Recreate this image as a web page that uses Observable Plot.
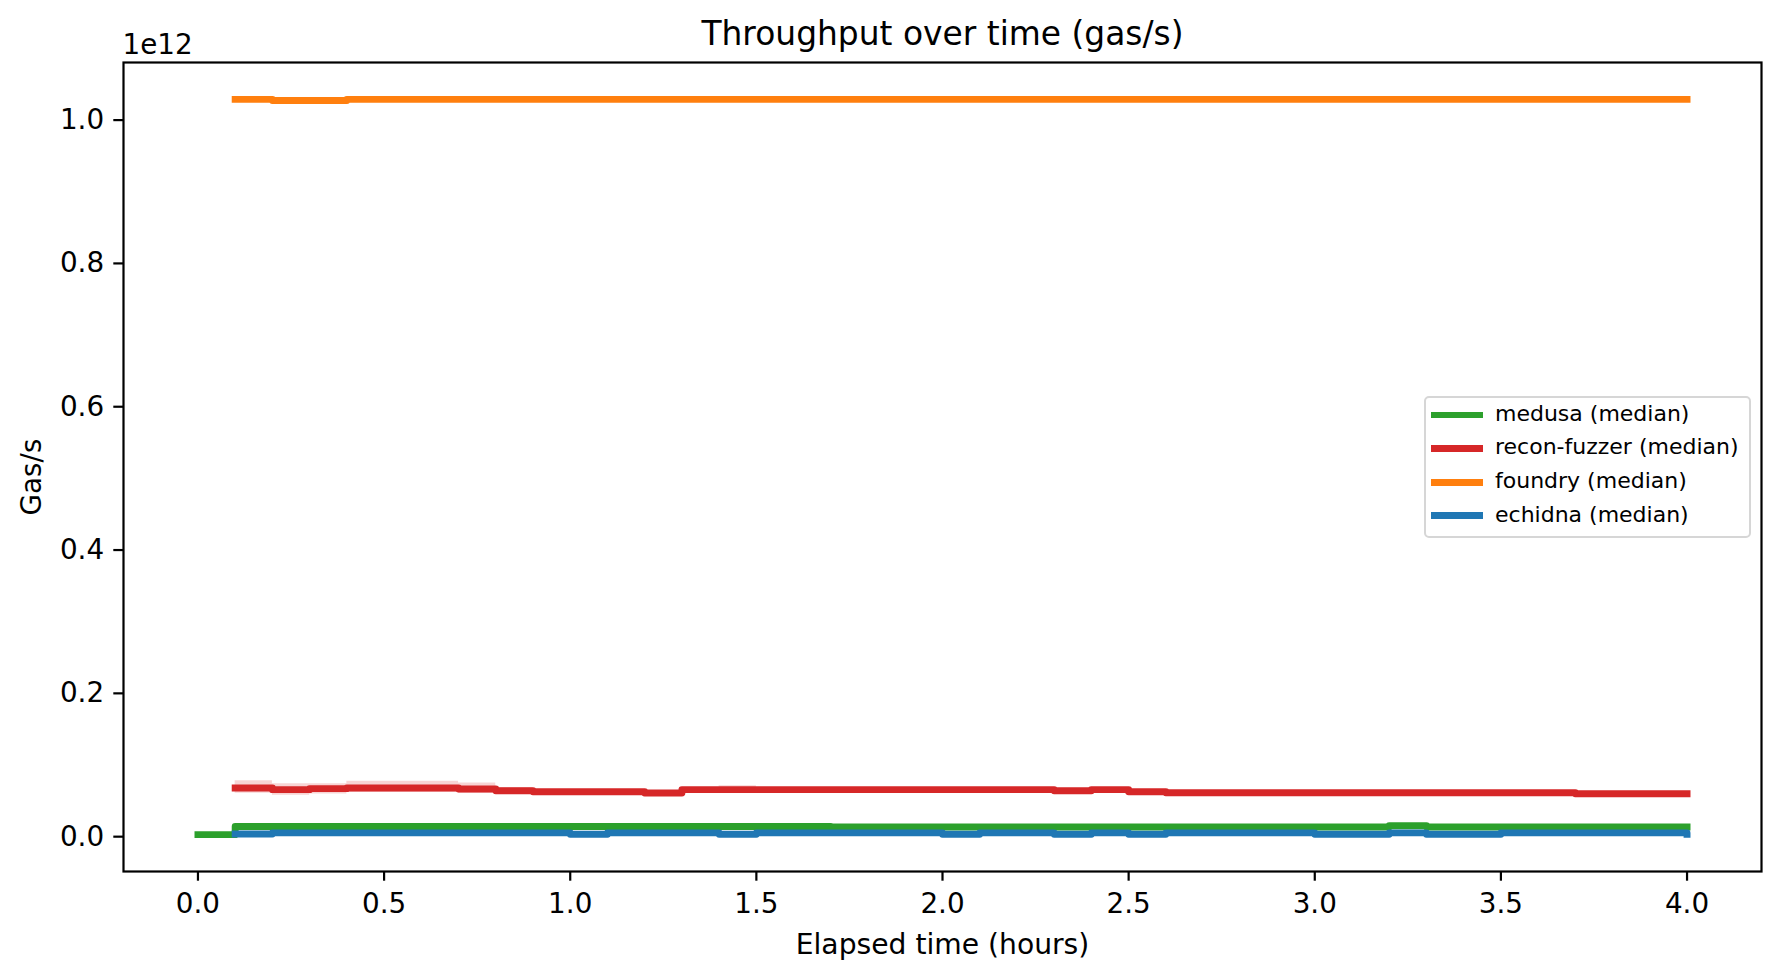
<!DOCTYPE html>
<html>
<head>
<meta charset="utf-8">
<script src="https://cdn.jsdelivr.net/npm/d3@7"></script>
<script src="https://cdn.jsdelivr.net/npm/@observablehq/plot@0.6"></script>
<style>
  html, body { margin: 0; padding: 0; background: #fff; }
  #wrap { position: relative; width: 1781px; height: 978px; font-family: "DejaVu Sans", sans-serif; }
  #legend { position: absolute; left: 1424px; top: 396px; width: 323px; height: 138px;
            border: 2px solid #d6d6d6; border-radius: 5px; background: rgba(255,255,255,0.8); }
  .row { position: absolute; left: 0; height: 34px; display: flex; align-items: center; }
  .sw { position: absolute; left: 5px; width: 52px; height: 6.9px; }
  .lab { position: absolute; left: 69px; font-size: 22px; white-space: nowrap; color: #000; line-height: 34px; top: -1px; }
</style>
</head>
<body>
<div id="wrap"></div>
<script>
// ---- data (gas/s, in units of 1e12) ----
const SCALE = 1e12;
const hours = [0.1,0.2,0.3,0.4,0.5,0.6,0.7,0.8,0.9,1.0,1.1,1.2,1.3,1.4,1.5,1.6,1.7,1.8,1.9,2.0,
               2.1,2.2,2.3,2.4,2.5,2.6,2.7,2.8,2.9,3.0,3.1,3.2,3.3,3.4,3.5,3.6,3.7,3.8,3.9,4.0];
const medusaHours = [0.0, ...hours];
const medusa = [0.0,
  0.0114,0.0114,0.0114,0.0114,0.0114,0.0114,0.0114,0.0114,0.0114,0.0114,
  0.0114,0.0114,0.0114,0.0114,0.0114,0.0114,0.0107,0.0107,0.0107,0.0107,
  0.0107,0.0107,0.0107,0.0107,0.0107,0.0107,0.0107,0.0107,0.0107,0.0107,
  0.0107,0.0124,0.0107,0.0107,0.0107,0.0107,0.0107,0.0107,0.0107,0.0107];
const recon = [
  0.0652,0.0628,0.0642,0.0652,0.0652,0.0652,0.0638,0.0613,0.0600,0.0600,
  0.0600,0.0582,0.0628,0.0628,0.0628,0.0628,0.0628,0.0628,0.0628,0.0628,
  0.0628,0.0628,0.0612,0.0628,0.0598,0.0585,0.0585,0.0585,0.0585,0.0585,
  0.0585,0.0585,0.0585,0.0585,0.0585,0.0585,0.0572,0.0572,0.0572,0.0572];
const reconLow = [
  0.0577,0.0549,0.0568,0.0587,0.0587,0.0587,0.0573,0.0568,0.0575,0.0575,
  0.0575,0.0560,0.0605,0.0605,0.0605,0.0605,0.0605,0.0605,0.0605,0.0605,
  0.0605,0.0605,0.0590,0.0605,0.0575,0.0562,0.0562,0.0562,0.0562,0.0562,
  0.0562,0.0562,0.0562,0.0562,0.0562,0.0562,0.0550,0.0550,0.0550,0.0550];
const reconHigh = [
  0.0754,0.0712,0.0712,0.0744,0.0744,0.0744,0.0722,0.0660,0.0625,0.0625,
  0.0625,0.0605,0.0650,0.0683,0.0650,0.0650,0.0650,0.0650,0.0650,0.0650,
  0.0650,0.0650,0.0635,0.0650,0.0620,0.0607,0.0607,0.0607,0.0607,0.0607,
  0.0607,0.0607,0.0607,0.0607,0.0607,0.0607,0.0595,0.0595,0.0595,0.0595];
const foundry = [
  1.0262,1.0245,1.0245,1.0262,1.0262,1.0262,1.0262,1.0262,1.0262,1.0262,
  1.0262,1.0262,1.0262,1.0262,1.0262,1.0262,1.0262,1.0262,1.0262,1.0262,
  1.0262,1.0262,1.0262,1.0262,1.0262,1.0262,1.0262,1.0262,1.0262,1.0262,
  1.0262,1.0262,1.0262,1.0262,1.0262,1.0262,1.0262,1.0262,1.0262,1.0262];
const echidna = [
  0.0010,0.0025,0.0025,0.0025,0.0025,0.0025,0.0025,0.0025,0.0025,0.0006,
  0.0025,0.0025,0.0025,0.0006,0.0025,0.0025,0.0025,0.0025,0.0025,0.0006,
  0.0025,0.0025,0.0006,0.0025,0.0006,0.0025,0.0025,0.0025,0.0025,0.0006,
  0.0006,0.0025,0.0006,0.0006,0.0025,0.0025,0.0025,0.0025,0.0025,0.0006];
const seriesNames = ["medusa (median)", "recon-fuzzer (median)", "foundry (median)", "echidna (median)"];
const seriesColors = ["#2ca02c", "#d62728", "#ff7f0e", "#1f77b4"];
const xTicks = [0, 0.5, 1.0, 1.5, 2.0, 2.5, 3.0, 3.5, 4.0];
const yTicks = [0, 0.2, 0.4, 0.6, 0.8, 1.0].map(d => d * SCALE);

const rows = (xs, vs) => xs.map((t, i) => ({t, v: vs[i] * SCALE}));
const medusaData = rows(medusaHours, medusa);
const reconData = rows(hours, recon);
const foundryData = rows(hours, foundry);
const echidnaData = rows(hours, echidna);
const bandData = hours.map((t, i) => ({t, lo: reconLow[i] * SCALE, hi: reconHigh[i] * SCALE}));

const LW = 6.9;
const lineOpts = (c) => ({x: "t", y: "v", curve: "step-after", stroke: c, strokeWidth: LW,
                          strokeLinejoin: "round", strokeLinecap: "square"});

const chart = Plot.plot({
  width: 1781, height: 978,
  marginLeft: 123, marginRight: 20, marginTop: 62, marginBottom: 107,
  style: {fontFamily: "DejaVu Sans", color: "#000", background: "#fff", overflow: "visible"},
  x: {domain: [-0.2, 4.2]},
  y: {domain: [-0.0514 * SCALE, 1.0776 * SCALE]},
  marks: [
    Plot.areaY(bandData, {x: "t", y1: "lo", y2: "hi", curve: "step-after", fill: seriesColors[1], fillOpacity: 0.2}),
    Plot.line(medusaData, lineOpts(seriesColors[0])),
    Plot.line(reconData, lineOpts(seriesColors[1])),
    Plot.line(foundryData, lineOpts(seriesColors[2])),
    Plot.line(echidnaData, lineOpts(seriesColors[3])),
    Plot.frame({stroke: "#000", strokeWidth: 2.2}),
    Plot.axisX({ticks: xTicks, tickFormat: d => d.toFixed(1), tickSize: 9.7, tickPadding: 12,
                fontSize: 27.8, strokeWidth: 2.2, label: null}),
    Plot.axisY({ticks: yTicks, tickFormat: d => (d / SCALE).toFixed(1), tickSize: 9.7, tickPadding: 9.7,
                fontSize: 27.8, strokeWidth: 2.2, label: null, dy: 2}),
    Plot.text(["Throughput over time (gas/s)"], {frameAnchor: "top", textAnchor: "middle", lineAnchor: "middle", dy: -27.7, fontSize: 32.9, fill: "#000"}),
    Plot.text(["Elapsed time (hours)"], {frameAnchor: "bottom", textAnchor: "middle", lineAnchor: "middle", dy: 73, fontSize: 28.2, fill: "#000"}),
    Plot.text(["Gas/s"], {frameAnchor: "left", textAnchor: "middle", lineAnchor: "middle", rotate: -90, dx: -91, dy: 10, fontSize: 27.8, fill: "#000"}),
    Plot.text(["1e12"], {frameAnchor: "top-left", textAnchor: "start", lineAnchor: "middle", dx: -1, dy: -17.6, fontSize: 27.8, fill: "#000"})
  ]
});

const wrap = document.getElementById("wrap");
wrap.appendChild(chart);

// legend (HTML overlay inside the axes, as in the original)
const legend = document.createElement("div");
legend.id = "legend";
const rowCenters = [17, 50.3, 84.3, 117.7];
seriesNames.forEach((name, i) => {
  const r = document.createElement("div");
  r.className = "row";
  r.style.top = (rowCenters[i] - 17) + "px";
  const sw = document.createElement("div");
  sw.className = "sw";
  sw.style.background = seriesColors[i];
  sw.style.top = (17 - LW / 2) + "px";
  const lab = document.createElement("div");
  lab.className = "lab";
  lab.textContent = name;
  r.appendChild(sw); r.appendChild(lab);
  legend.appendChild(r);
});
wrap.appendChild(legend);
</script>
</body>
</html>
